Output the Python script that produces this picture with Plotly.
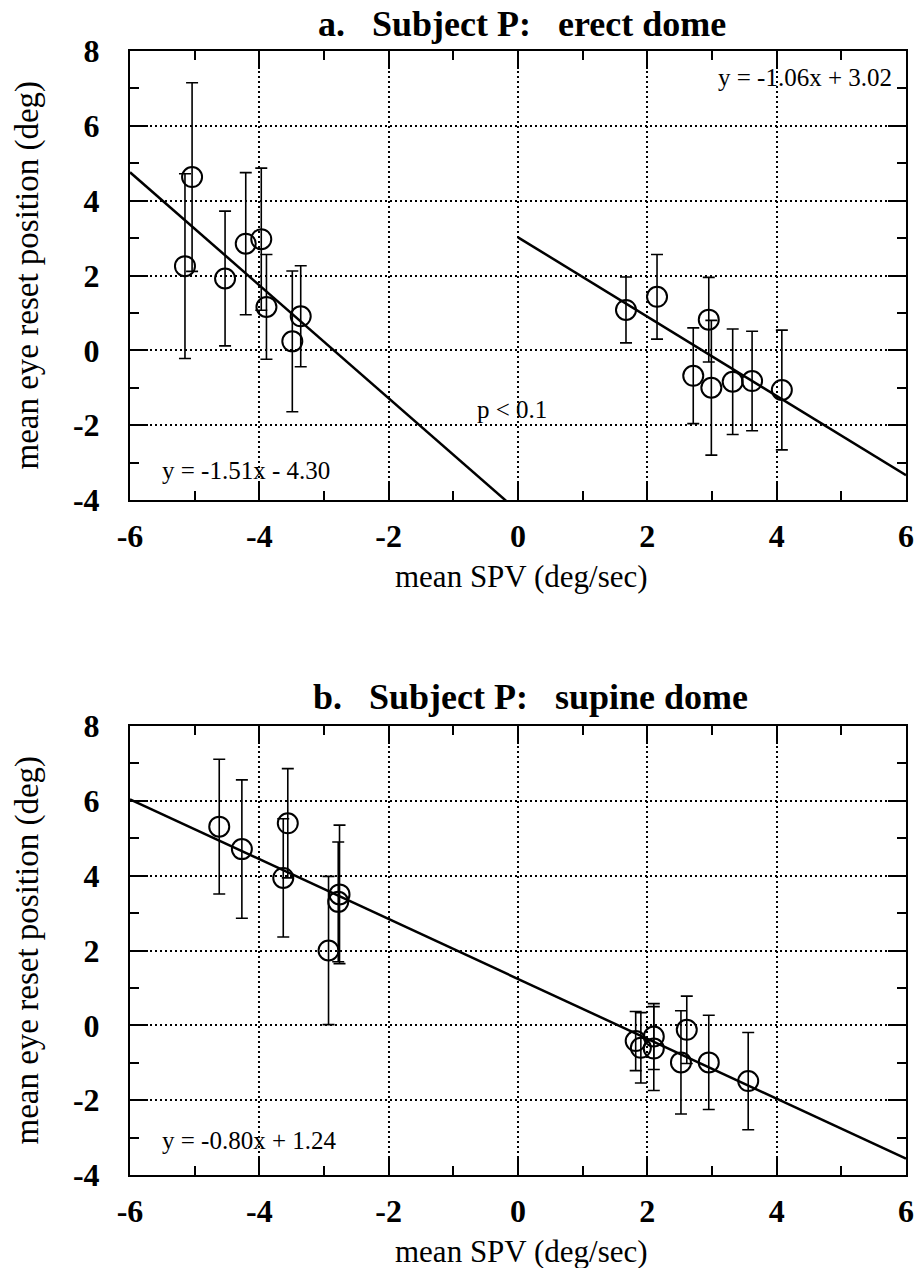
import plotly.graph_objects as go

# ---- panel a: erect dome (mean SPV vs mean eye reset position, +/- SD) ----
erect_spv = [-5.15, -5.04, -4.53, -4.21, -3.97, -3.89, -3.49, -3.36,
             1.67, 2.15, 2.71, 2.95, 2.99, 3.32, 3.62, 4.08]
erect_reset = [2.25, 4.63, 1.92, 2.85, 2.97, 1.16, 0.24, 0.91,
               1.08, 1.43, -0.68, 0.82, -1.00, -0.84, -0.82, -1.06]
erect_sd = [2.47, 2.52, 1.80, 1.90, 1.90, 1.40, 1.88, 1.35,
            0.88, 1.13, 1.28, 1.13, 1.80, 1.41, 1.33, 1.60]

# ---- panel b: supine dome ----
supine_spv = [-4.62, -4.27, -3.56, -3.63, -2.93, -2.76, -2.78,
              1.82, 1.90, 2.10, 2.10, 2.52, 2.61, 2.95, 3.56]
supine_reset = [5.31, 4.71, 5.40, 3.94, 2.00, 3.50, 3.30,
                -0.42, -0.60, -0.30, -0.62, -0.99, -0.12, -0.99, -1.49]
supine_sd = [1.80, 1.85, 1.46, 1.58, 1.98, 1.85, 1.60,
             0.79, 0.94, 0.88, 1.12, 1.38, 0.90, 1.26, 1.30]

# ---- linear regression fits: slope, intercept, x span ----
erect_neg_slope, erect_neg_icpt, erect_neg_span = -1.51, -4.30, [-6, 0]
erect_pos_slope, erect_pos_icpt, erect_pos_span = -1.06, 3.02, [0, 6]
supine_slope, supine_icpt, supine_span = -0.80, 1.24, [-6, 6]

x_ticks = [-6, -4, -2, 0, 2, 4, 6]
y_ticks = [-4, -2, 0, 2, 4, 6, 8]
x_tick_text = ["-6", "-4", "-2", "0", "2", "4", "6"]
y_tick_text = ["-4", "-2", "0", "2", "4", "6", "8"]

W, H = 921, 1268
ML, MR, MT, MB = 130, 15, 51, 93
PW, PH = W - ML - MR, H - MT - MB
TOP_PANEL = (51, 500)      # pixel rows of the two plotting areas
BOT_PANEL = (726, 1175)

SERIF = "Liberation Serif"


def py(pix):
    return (H - MB - pix) / PH


def px(pix):
    return (pix - ML) / PW


def fit_line(slope, icpt, span):
    return span, [slope * v + icpt for v in span]


fig = go.Figure()


def add_panel(xs, ys, sds, fits, xa, ya):
    for slope, icpt, span in fits:
        lx, ly = fit_line(slope, icpt, span)
        fig.add_trace(go.Scatter(x=lx, y=ly, mode="lines", xaxis=xa, yaxis=ya,
                                 line=dict(color="black", width=2.5),
                                 showlegend=False, hoverinfo="skip"))
    fig.add_trace(go.Scatter(
        x=xs, y=ys, mode="markers", xaxis=xa, yaxis=ya, showlegend=False,
        marker=dict(symbol="circle-open", size=20, color="black",
                    line=dict(color="black", width=2)),
        error_y=dict(type="data", array=sds, symmetric=True, visible=True,
                     color="black", thickness=1.6, width=6),
    ))


add_panel(erect_spv, erect_reset, erect_sd,
          [(erect_neg_slope, erect_neg_icpt, erect_neg_span),
           (erect_pos_slope, erect_pos_icpt, erect_pos_span)], "x", "y")
add_panel(supine_spv, supine_reset, supine_sd,
          [(supine_slope, supine_icpt, supine_span)], "x2", "y2")

axis_style = dict(
    showline=True, linecolor="black", linewidth=2, mirror="ticks",
    ticks="inside", ticklen=18, tickwidth=1.6, tickcolor="black",
    showgrid=True, gridcolor="black", gridwidth=1.5, griddash="2px,3px",
    zeroline=False,
    minor=dict(ticks="inside", ticklen=9, tickwidth=1.6, tickcolor="black",
               dtick=1, showgrid=False),
    tickfont=dict(family=SERIF, size=32, color="black", weight="bold"),
)
x_style = dict(axis_style, range=[-6, 6], tickvals=x_ticks, ticktext=x_tick_text,
               domain=[0, 1], ticklabelstandoff=7)
y_style = dict(axis_style, range=[-4, 8], tickvals=y_ticks, ticktext=y_tick_text,
               ticklabelstandoff=22)

fig.update_layout(
    width=W, height=H,
    margin=dict(l=ML, r=MR, t=MT, b=MB, autoexpand=False),
    paper_bgcolor="white", plot_bgcolor="white",
    xaxis=dict(x_style, anchor="y"),
    yaxis=dict(y_style, anchor="x", domain=[py(TOP_PANEL[1]), py(TOP_PANEL[0])]),
    xaxis2=dict(x_style, anchor="y2"),
    yaxis2=dict(y_style, anchor="x2", domain=[py(BOT_PANEL[1]), py(BOT_PANEL[0])]),
)

title_font = dict(family=SERIF, size=36, color="black")
xlabel_font = dict(family=SERIF, size=31, color="black")
ylabel_font = dict(family=SERIF, size=33, color="black")
eq_font = dict(family=SERIF, size=25, color="black")
NB = "\u00a0"

paper_notes = [
    (f"<b>a.{NB}{NB} Subject P:{NB}{NB} erect dome</b>", 522, 24, 0, title_font),
    (f"<b>b.{NB}{NB} Subject P:{NB}{NB}{NB}supine dome</b>", 530, 697, 0, title_font),
    ("mean SPV (deg/sec)", 521, TOP_PANEL[1] + 76, 0, xlabel_font),
    ("mean SPV (deg/sec)", 521, BOT_PANEL[1] + 76, 0, xlabel_font),
    ("mean eye reset position (deg)", 27, sum(TOP_PANEL) / 2, -90, ylabel_font),
    ("mean eye reset position (deg)", 27, sum(BOT_PANEL) / 2, -90, ylabel_font),
]
for text, xp, yp, ang, fnt in paper_notes:
    fig.add_annotation(text=text, xref="paper", yref="paper", x=px(xp), y=py(yp),
                       xanchor="center", yanchor="middle", textangle=ang,
                       showarrow=False, font=fnt)

data_notes = [
    ("y = -1.06x + 3.02", 5.82, 7.3, "right", "x", "y"),
    ("p < 0.1", -0.1, -1.57, "center", "x", "y"),
    ("y = -1.51x - 4.30", -5.53, -3.2, "left", "x", "y"),
    ("y = -0.80x + 1.24", -5.53, -3.08, "left", "x2", "y2"),
]
for text, xv, yv, anc, xr, yr in data_notes:
    fig.add_annotation(text=text, xref=xr, yref=yr, x=xv, y=yv, xanchor=anc,
                       yanchor="middle", showarrow=False, font=eq_font)

fig.write_html("out.html")
